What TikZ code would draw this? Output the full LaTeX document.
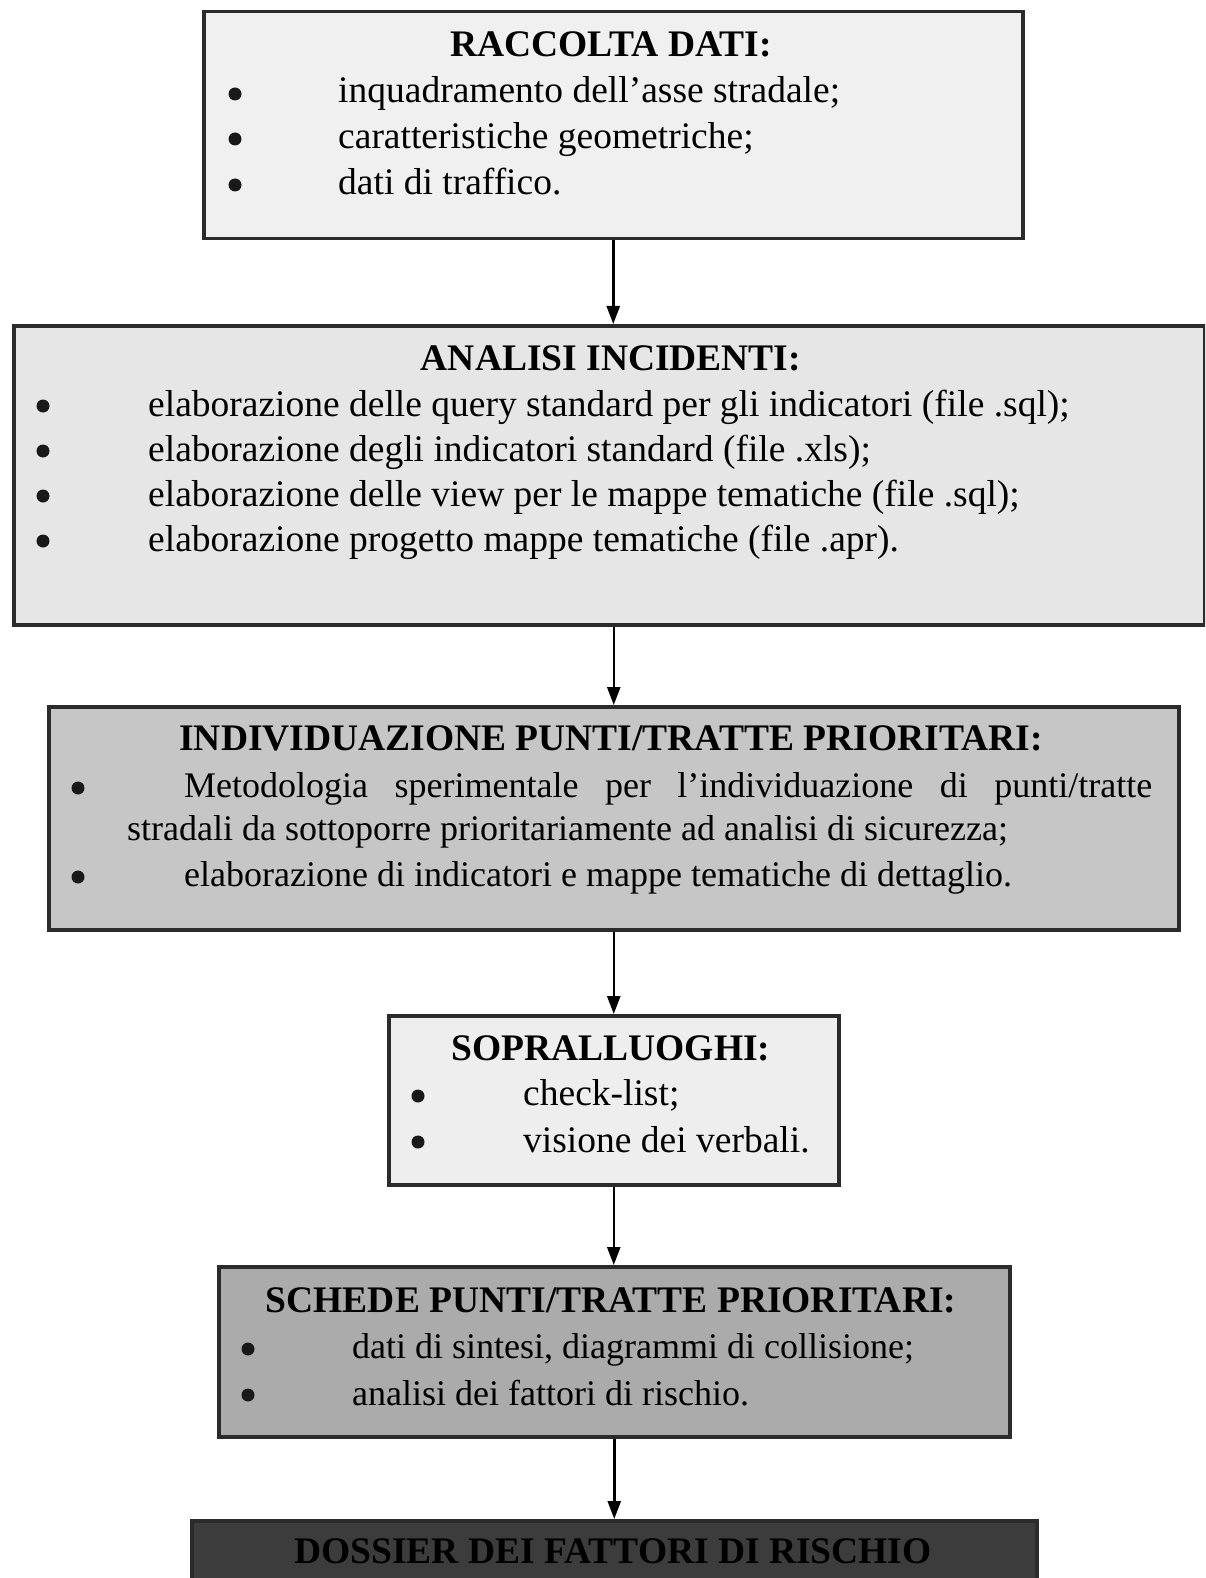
\documentclass[tikz,border=0pt]{standalone}
\usepackage{fontspec}
\setmainfont{Liberation Serif}
\usetikzlibrary{arrows.meta}
\definecolor{bordc}{HTML}{2B2B2B}
\definecolor{fillA}{HTML}{F0F0F0}
\definecolor{fillB}{HTML}{E6E6E6}
\definecolor{fillC}{HTML}{C6C6C6}
\definecolor{fillD}{HTML}{EEEEEE}
\definecolor{fillE}{HTML}{ABABAB}
\definecolor{fillF}{HTML}{3C3C3C}
\begin{document}
\begin{tikzpicture}[x=1pt,y=-1pt,
  box/.style={draw=bordc, line width=3.5pt, rectangle, anchor=north west, inner sep=0pt},
  txt/.style={anchor=base west, inner sep=0pt, font=\fontsize{37.5}{45}\selectfont},
  gtxt/.style={anchor=base west, inner sep=0pt, font=\fontsize{36}{43}\selectfont},
  ttl/.style={anchor=base, inner sep=0pt, font=\fontsize{37.5}{45}\selectfont\bfseries},
  bul/.style={circle, fill=black!90, minimum size=13pt, inner sep=0pt},
  arr/.style={line width=2.5pt, draw=black, -{Triangle[length=18pt,width=13pt]}}]
\clip (0,0) rectangle (1205,1578);
\fill[white] (0,0) rectangle (1205,1578);

% Box 1
\node[box, fill=fillA, minimum width=819pt, minimum height=227pt] (b1) at (202,10) {};
\node[ttl] (t1) at (611,57) {RACCOLTA DATI:};
\node[bul] (u11) at (235,94) {};
\node[bul] (u12) at (235,139) {};
\node[bul] (u13) at (235,185) {};
\node[txt] (l11) at (338,103) {inquadramento dell’asse stradale;};
\node[txt] (l12) at (338,149) {caratteristiche geometriche;};
\node[txt] (l13) at (338,195) {dati di traffico.};

% Box 2
\node[box, fill=fillB, minimum width=1191pt, minimum height=299pt] (b2) at (12,324) {};
\node[ttl] (t2) at (611,370) {ANALISI INCIDENTI:};
\node[bul] (u21) at (43,406) {};
\node[bul] (u22) at (43,451) {};
\node[bul] (u23) at (43,496) {};
\node[bul] (u24) at (43,541) {};
\node[txt] (l21) at (148,416) {elaborazione delle query standard per gli indicatori (file .sql);};
\node[txt] (l22) at (148,461) {elaborazione degli indicatori standard (file .xls);};
\node[txt] (l23) at (148,506) {elaborazione delle view per le mappe tematiche (file .sql);};
\node[txt] (l24) at (148,551) {elaborazione progetto mappe tematiche (file .apr).};

% Box 3
\node[box, fill=fillC, minimum width=1130pt, minimum height=223pt] (b3) at (47,705) {};
\node[ttl] (t3) at (611,750) {INDIVIDUAZIONE PUNTI/TRATTE PRIORITARI:};
\node[bul] (u31) at (78,788) {};
\node[bul] (u32) at (78,877) {};
\node[gtxt] (l31) at (184,797) {\makebox[968pt][s]{Metodologia sperimentale per l’individuazione di punti/tratte}};
\node[gtxt] (l32) at (127,840) {stradali da sottoporre prioritariamente ad analisi di sicurezza;};
\node[gtxt] (l33) at (184,886) {elaborazione di indicatori e mappe tematiche di dettaglio.};

% Box 4
\node[box, fill=fillD, minimum width=450pt, minimum height=169pt] (b4) at (387,1014) {};
\node[ttl] (t4) at (611,1060) {SOPRALLUOGHI:};
\node[bul] (u41) at (418,1096) {};
\node[bul] (u42) at (418,1142) {};
\node[txt] (l41) at (523,1105) {check-list;};
\node[txt] (l42) at (523,1152) {visione dei verbali.};

% Box 5
\node[box, fill=fillE, minimum width=791pt, minimum height=170pt] (b5) at (217,1265) {};
\node[ttl] (t5) at (611,1312) {SCHEDE PUNTI/TRATTE PRIORITARI:};
\node[bul] (u51) at (248,1349) {};
\node[bul] (u52) at (248,1395) {};
\node[gtxt] (l51) at (352,1358) {dati di sintesi, diagrammi di collisione;};
\node[gtxt] (l52) at (352,1405) {analisi dei fattori di rischio.};

% Box 6
\node[box, fill=fillF, minimum width=845pt, minimum height=90pt] (b6) at (190,1519) {};
\node[ttl] (t6) at (613,1563) {DOSSIER DEI FATTORI DI RISCHIO};

% Arrows
\draw[arr] (b1.south) -- (b1.south |- b2.north);
\draw[arr] (b3.north |- b2.south) -- (b3.north);
\draw[arr] (b3.south) -- (b3.south |- b4.north);
\draw[arr] (b4.south) -- (b4.south |- b5.north);
\draw[arr] (b5.south) -- (b5.south |- b6.north);
\end{tikzpicture}
\end{document}
